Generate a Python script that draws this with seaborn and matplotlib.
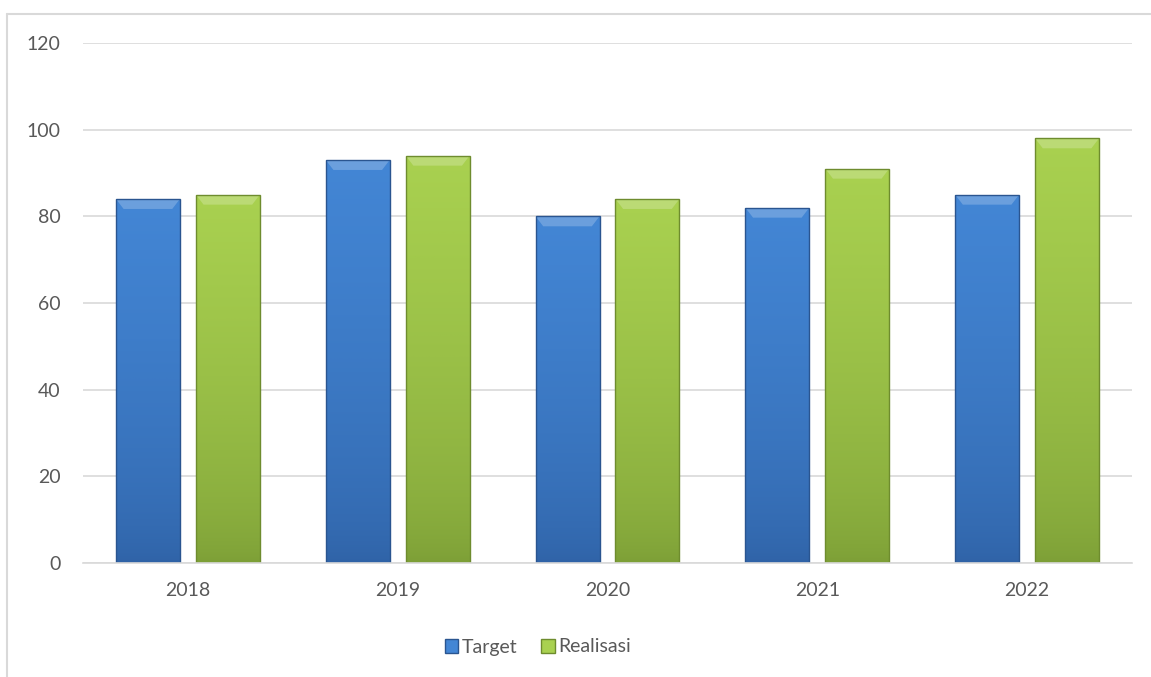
import numpy as np
import pandas as pd
import seaborn as sns
import matplotlib.pyplot as plt
from matplotlib.colors import LinearSegmentedColormap
from matplotlib.patches import Polygon, Patch
from matplotlib.lines import Line2D

# data
years = ["2018", "2019", "2020", "2021", "2022"]
target = [84, 93, 80, 82, 85]
realisasi = [85, 94, 84, 91, 98]
series_names = ["Target", "Realisasi"]

df = pd.DataFrame({
    "Tahun": years * 2,
    "Nilai": target + realisasi,
    "Seri": [series_names[0]] * len(years) + [series_names[1]] * len(years),
})

# colours (top, bottom of gradient)
grad = {
    "Target": ("#4386D5", "#2F62A6"),
    "Realisasi": ("#A9D150", "#7C9E36"),
}
edge = {"Target": "#2A5590", "Realisasi": "#6E8C2E"}
palette = {k: v[0] for k, v in grad.items()}

sns.set_theme(style="white")
plt.rcParams["font.family"] = ["Lato", "DejaVu Sans"]

fig = plt.figure(figsize=(11.51, 6.77), dpi=100)
ax = fig.add_axes([83 / 1151, 1 - 563 / 677, (1132 - 83) / 1151, (563 - 43) / 677])

sns.barplot(data=df, x="Tahun", y="Nilai", hue="Seri", order=years,
            hue_order=series_names, palette=palette, width=0.762, gap=0.2,
            linewidth=0, legend=False, ax=ax)

ax.set_yticks(range(0, 121, 20))
ax.yaxis.grid(True, color="#D9D9D9", linewidth=1.2)
ax.set_axisbelow(True)
for s in ["top", "right", "left"]:
    ax.spines[s].set_visible(False)
ax.spines["bottom"].set_color("#D9D9D9")
ax.spines["bottom"].set_linewidth(1.2)
ax.tick_params(axis="both", length=0, labelsize=14, labelcolor="#595959")
ax.tick_params(axis="y", pad=16)
ax.tick_params(axis="x", pad=14)
ax.set_xlabel("")
ax.set_ylabel("")

# bevel/gradient look on each bar
n = len(years)
for i, bar in enumerate(list(ax.patches)[: 2 * n]):
    name = series_names[i // n]
    top_c, bot_c = grad[name]
    x0, y0 = bar.get_x(), bar.get_y()
    w, h = bar.get_width(), bar.get_height()
    cmap = LinearSegmentedColormap.from_list(name, [bot_c, top_c])
    img = ax.imshow(np.linspace(0, 1, 256).reshape(-1, 1) ** 0.6, cmap=cmap,
                    extent=[x0, x0 + w, y0, y0 + h], origin="lower",
                    aspect="auto", zorder=bar.get_zorder() + 0.1)
    img.set_clip_path(bar)
    # light top bevel
    bev = 2.3
    bw = w * 0.12
    ax.add_patch(Polygon([[x0, y0 + h], [x0 + w, y0 + h],
                          [x0 + w - bw, y0 + h - bev], [x0 + bw, y0 + h - bev]],
                         closed=True, facecolor="white", alpha=0.22,
                         edgecolor="none", zorder=bar.get_zorder() + 0.2))
    ax.add_patch(plt.Rectangle((x0, y0), w, h, facecolor="none",
                               edgecolor=edge[name], linewidth=1.0,
                               zorder=bar.get_zorder() + 0.3))
ax.set_xlim(-0.5, len(years) - 0.5)
ax.set_ylim(0, 120)

# legend
handles = [Patch(facecolor=grad[s][0], edgecolor=edge[s], label=s) for s in series_names]
fig.legend(handles=handles, loc="center", bbox_to_anchor=(538 / 1151, 1 - 647 / 677),
           ncol=2, frameon=False, fontsize=14, handlelength=0.7, handleheight=0.7,
           handletextpad=0.2, columnspacing=1.2, labelcolor="#595959")

# chart border (top and left visible)
fig.add_artist(Line2D([7 / 1151, 1], [1 - 14 / 677, 1 - 14 / 677],
                      transform=fig.transFigure, color="#D9D9D9", linewidth=1.5))
fig.add_artist(Line2D([7 / 1151, 7 / 1151], [0, 1 - 14 / 677],
                      transform=fig.transFigure, color="#D9D9D9", linewidth=1.5))

fig.savefig("out.png", dpi=100, facecolor="white")
